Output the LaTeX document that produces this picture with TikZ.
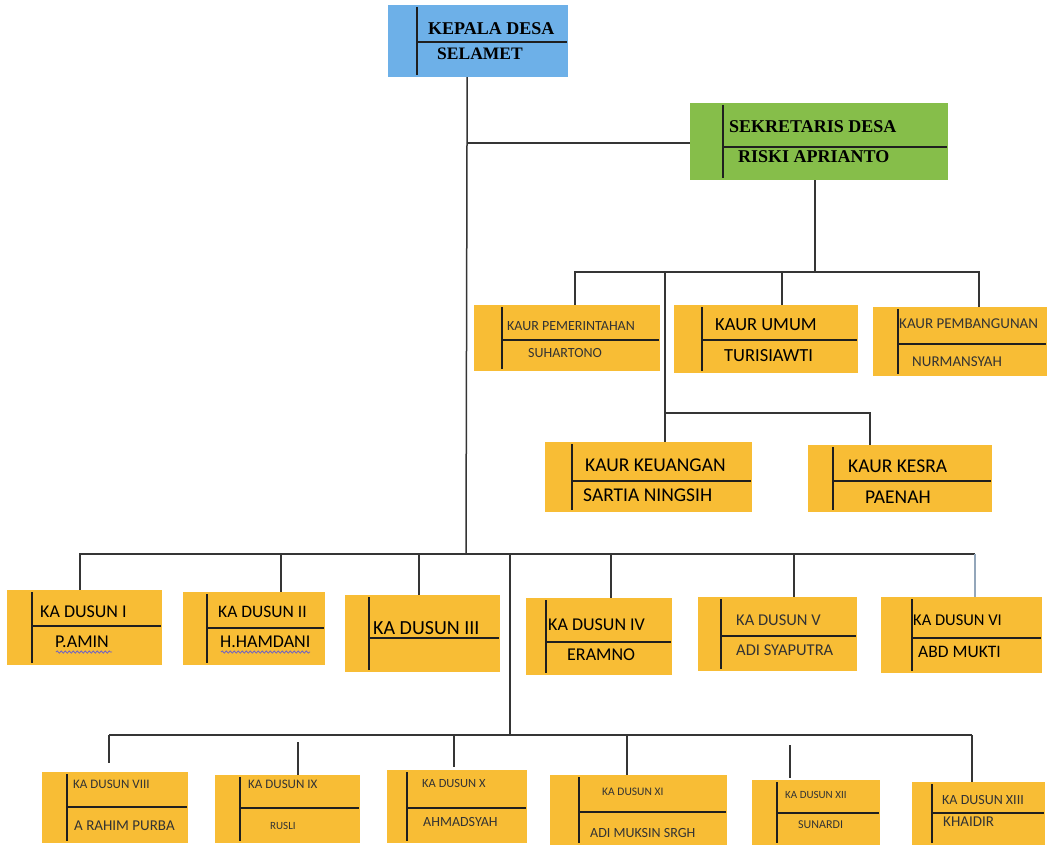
\documentclass[tikz,border=0pt]{standalone}
\usepackage{fontspec}
\setmainfont{Liberation Serif}
\setsansfont{Carlito}
\usetikzlibrary{fit,decorations.pathmorphing}
\definecolor{kdblue}{HTML}{6DB0E8}
\definecolor{sekgreen}{HTML}{86BE4A}
\definecolor{korange}{HTML}{F8BD35}
\definecolor{lineg}{HTML}{353535}
\definecolor{lightline}{HTML}{93A6BA}
\definecolor{squig}{HTML}{6F62C4}
\tikzset{
  obox/.style={draw=none, inner sep=0pt},
  inner/.style={draw=black!88, line width=1.6pt},
  conn/.style={draw=lineg, line width=1.5pt},
  lconn/.style={draw=lightline, line width=1.5pt},
  otxt/.style={inner sep=0pt, anchor=west, text=black},
  stxt/.style={inner sep=0pt, anchor=west, text=black!80},
  wavy/.style={draw=squig, line width=0.8pt, decorate, decoration={snake, amplitude=1.1pt, segment length=4pt}}
}
\newcommand\orgbox[8]{%
  \node[obox, fill=#6, fit={(#2,#3) (#4,#5)}] (#1) {};
  \draw[inner] (#7,#3+2) -- (#7,#5-2);
  \draw[inner] (#7,#8) -- (#4-1,#8);
}
\newcommand\btext[5]{\node[otxt, font=\sffamily\fontsize{#4}{#4}\selectfont] (#1) at (#2,#3) {#5};}
\newcommand\stext[5]{\node[stxt, font=\sffamily\fontsize{#4}{#4}\selectfont] (#1) at (#2,#3) {#5};}
\newcommand\rtext[5]{\node[otxt, font=\rmfamily\bfseries\fontsize{#4}{#4}\selectfont] (#1) at (#2,#3) {#5};}
\begin{document}
\begin{tikzpicture}[x=1pt, y=-1pt, font=\sffamily]
\useasboundingbox[fill=white] (0,0) rectangle (1049,847);

% ---- boxes ----
\orgbox{kd}{388}{5}{568}{77}{kdblue}{417}{42}
\orgbox{sek}{690}{103}{948}{180}{sekgreen}{723}{147}
\orgbox{pem}{474}{305}{660}{371}{korange}{502}{340}
\orgbox{umu}{674}{305}{858}{373}{korange}{702}{340}
\orgbox{pmb}{873}{307}{1047}{376}{korange}{898}{344}
\orgbox{keu}{545}{442}{752}{512}{korange}{572}{481}
\orgbox{kes}{808}{445}{992}{512}{korange}{833}{481}
\orgbox{d1}{7}{590}{162}{665}{korange}{32}{626}
\orgbox{d2}{183}{592}{325}{665}{korange}{207}{628}
\orgbox{d3}{345}{595}{500}{672}{korange}{369}{638}
\orgbox{d4}{526}{598}{672}{675}{korange}{546}{642}
\orgbox{d5}{698}{597}{857}{671}{korange}{721}{636}
\orgbox{d6}{881}{597}{1042}{673}{korange}{912}{638}
\orgbox{d8}{42}{772}{188}{843}{korange}{67}{807}
\orgbox{d9}{215}{775}{360}{843}{korange}{240}{808}
\orgbox{d10}{387}{770}{527}{843}{korange}{407}{808}
\orgbox{d11}{550}{775}{727}{845}{korange}{579}{812}
\orgbox{d12}{752}{780}{880}{845}{korange}{777}{813}
\orgbox{d13}{912}{782}{1045}{845}{korange}{932}{813}

% ---- texts ----
\rtext{kd-a}{428}{29}{18}{KEPALA DESA}
\rtext{kd-b}{437}{54}{17.5}{SELAMET}
\rtext{sek-a}{729}{127}{18}{SEKRETARIS DESA}
\rtext{sek-b}{738}{157}{18}{RISKI APRIANTO}
\stext{pem-a}{507}{326}{14}{KAUR PEMERINTAHAN}
\stext{pem-b}{528}{353}{14}{SUHARTONO}
\btext{umu-a}{715}{325}{18.5}{KAUR UMUM}
\btext{umu-b}{724}{356}{18.5}{TURISIAWTI}
\stext{pmb-a}{899}{324}{15}{KAUR PEMBANGUNAN}
\stext{pmb-b}{912}{362}{15}{NURMANSYAH}
\btext{keu-a}{585}{465}{19.5}{KAUR KEUANGAN}
\btext{keu-b}{583}{495}{19.5}{SARTIA NINGSIH}
\btext{kes-a}{848}{466}{19.5}{KAUR KESRA}
\btext{kes-b}{865}{497}{19.5}{PAENAH}
\btext{d1-a}{40}{612}{18}{KA DUSUN I}
\btext{d1-b}{55}{642}{18}{P.AMIN}
\btext{d2-a}{218}{612}{17.5}{KA DUSUN II}
\btext{d2-b}{220}{642}{18}{H.HAMDANI}
\btext{d3-a}{373}{628}{20}{KA DUSUN III}
\btext{d4-a}{548}{625}{18}{KA DUSUN IV}
\btext{d4-b}{567}{655}{18}{ERAMNO}
\stext{d5-a}{736}{620}{16.5}{KA DUSUN V}
\stext{d5-b}{736}{650}{16.5}{ADI SYAPUTRA}
\btext{d6-a}{913}{620}{16.5}{KA DUSUN VI}
\btext{d6-b}{918}{652}{17.5}{ABD MUKTI}
\stext{d8-a}{73}{784}{13}{KA DUSUN VIII}
\stext{d8-b}{74}{826}{15}{A RAHIM PURBA}
\stext{d9-a}{248}{784}{13}{KA DUSUN IX}
\stext{d9-b}{270}{826}{11}{RUSLI}
\stext{d10-a}{422}{783}{12.5}{KA DUSUN X}
\stext{d10-b}{423}{822}{14}{AHMADSYAH}
\stext{d11-a}{602}{792}{11.5}{KA DUSUN XI}
\stext{d11-b}{590}{833}{14}{ADI MUKSIN SRGH}
\stext{d12-a}{785}{795}{11}{KA DUSUN XII}
\stext{d12-b}{798}{825}{12}{SUNARDI}
\stext{d13-a}{942}{800}{14}{KA DUSUN XIII}
\stext{d13-b}{943}{822}{15}{KHAIDIR}

% spell-check squiggles
\draw[wavy] (d1-b.south west) ++(1,4) -- ++(56,0);
\draw[wavy] (d2-b.south west) ++(1,4) -- ++(89,0);

% ---- connectors ----
\coordinate (j1) at (467,143);
\coordinate (j2) at (466,554);
\draw[conn] (kd.south -| j1) -- (j1) -- (j2);
\draw[conn] (j1) -- (j1 -| sek.west);

\coordinate (j3) at (815,272);
\coordinate (h1l) at (575,272);
\coordinate (h1m) at (782,272);
\coordinate (h1r) at (979,272);
\draw[conn] (sek.south -| j3) -- (j3);
\draw[conn] (pem.north -| h1l) -- (h1l) -- (h1r) -- (h1r |- pmb.north);
\draw[conn] (h1m) -- (h1m |- umu.north);

\coordinate (k1) at (665,272);
\coordinate (k2) at (665,413);
\coordinate (k3) at (870,413);
\draw[conn] (k1) -- (k2) -- (k3) -- (k3 |- kes.north);
\draw[conn] (k2) -- (k2 |- keu.north);

% row 1
\coordinate (r1l) at (80,554);
\coordinate (r1r) at (975,554);
\coordinate (r1b) at (281,554);
\coordinate (r1c) at (419,554);
\coordinate (r1d) at (611,554);
\coordinate (r1e) at (794,554);
\draw[conn] (d1.north -| r1l) -- (r1l) -- (r1r);
\draw[conn] (r1b) -- (r1b |- d2.north);
\draw[conn] (r1c) -- (r1c |- d3.north);
\draw[conn] (r1d) -- (r1d |- d4.north);
\draw[conn] (r1e) -- (r1e |- d5.north);
\draw[lconn] (r1r) -- (r1r |- d6.north);

% row 2
\coordinate (m1) at (510,554);
\coordinate (m2) at (510,735);
\draw[conn] (m1) -- (m2);
\coordinate (r2l) at (109,735);
\coordinate (r2r) at (972,735);
\coordinate (r2b) at (298,735);
\coordinate (r2c) at (454,735);
\coordinate (r2d) at (627,735);
\coordinate (r2e) at (790,735);
\draw[conn] (r2l) -- (r2r);
\draw[conn, shorten >=9pt] (r2l) -- (r2l |- d8.north);
\draw[conn, shorten <=7pt] (r2b) -- (r2b |- d9.north);
\draw[conn, shorten >=3pt] (r2c) -- (r2c |- d10.north);
\draw[conn] (r2d) -- (r2d |- d11.north);
\draw[conn, shorten <=10pt, shorten >=2pt] (r2e) -- (r2e |- d12.north);
\draw[conn] (r2r) -- (r2r |- d13.north);
\end{tikzpicture}
\end{document}
